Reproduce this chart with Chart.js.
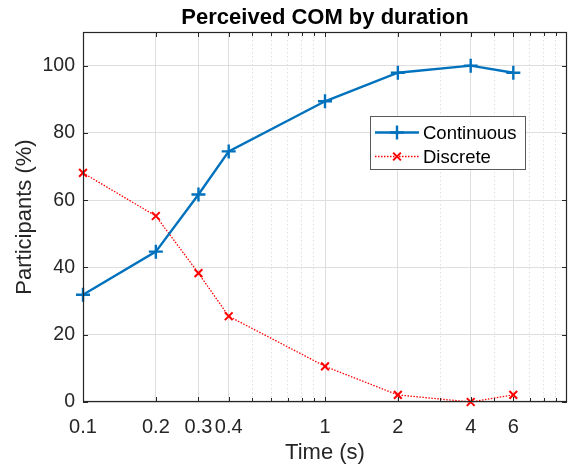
<!DOCTYPE html>
<html>
<head>
<meta charset="utf-8">
<title>Perceived COM by duration</title>
<script src="https://cdn.jsdelivr.net/npm/chart.js@4.4.1/dist/chart.umd.min.js"></script>
<style>
  html, body { margin: 0; padding: 0; background: #fff; }
</style>
</head>
<body>
<canvas id="comChart" width="571" height="468"></canvas>
<script>
// stimulus duration (s) and % of participants giving each answer
const durations = [0.1, 0.2, 0.3, 0.4, 1, 2, 4, 6];
const continuous = [31.9, 44.7, 61.7, 74.5, 89.4, 97.9, 100, 97.9];
const discrete = [68.1, 55.3, 38.3, 25.5, 10.6, 2.1, 0, 2.1];

const xTicks = [0.1, 0.2, 0.3, 0.4, 1, 2, 4, 6];
const xMinorTicks = [0.5, 0.6, 0.7, 0.8, 0.9, 3, 5, 7, 8, 9];
const yTicks = [0, 20, 40, 60, 80, 100];

const axisColor = '#262626';
const fontFamily = '"Liberation Sans", Arial, Helvetica, sans-serif';

function points(values) {
    return durations.map((t, i) => ({ x: t, y: values[i] }));
}

// legend box drawn inside the axes, like matlab's 'Location' legend
function drawLegend(chart) {
    const ctx = chart.ctx;
    const bx = 370, by = 116, bw = 156, bh = 54;
    ctx.save();
    ctx.fillStyle = '#fff';
    ctx.fillRect(bx, by, bw, bh);
    ctx.strokeStyle = '#5a5a5a';
    ctx.lineWidth = 1;
    ctx.strokeRect(bx + 0.5, by + 0.5, bw - 1, bh - 1);

    chart.data.datasets.forEach((ds, i) => {
        const yy = by + 16.5 + i * 24;
        const mx = bx + 27;
        ctx.strokeStyle = ds.borderColor;
        ctx.lineWidth = ds.borderWidth;
        ctx.setLineDash(ds.borderDash || []);
        ctx.beginPath();
        ctx.moveTo(bx + 5, yy);
        ctx.lineTo(bx + 49, yy);
        ctx.stroke();
        ctx.setLineDash([]);
        ctx.lineWidth = ds.pointBorderWidth;
        ctx.beginPath();
        const r = ds.pointRadius;
        if (ds.pointStyle === 'cross') {
            ctx.moveTo(mx - r, yy); ctx.lineTo(mx + r, yy);
            ctx.moveTo(mx, yy - r); ctx.lineTo(mx, yy + r);
        } else {
            const d = r * Math.SQRT1_2;
            ctx.moveTo(mx - d, yy - d); ctx.lineTo(mx + d, yy + d);
            ctx.moveTo(mx - d, yy + d); ctx.lineTo(mx + d, yy - d);
        }
        ctx.stroke();

        ctx.fillStyle = '#000';
        ctx.font = '18.5px ' + fontFamily;
        ctx.textBaseline = 'middle';
        ctx.textAlign = 'left';
        ctx.fillText(ds.label, bx + 53, yy + 1);
    });
    ctx.restore();
}

const matlabBox = {
    id: 'matlabBox',
    afterDraw(chart) {
        const { ctx, chartArea: a, scales: { x, y } } = chart;
        ctx.save();
        ctx.strokeStyle = axisColor;
        ctx.lineWidth = 1;
        ctx.beginPath();
        // tick marks point inwards, on all four sides
        const xMark = (v, len) => {
            const px = Math.round(x.getPixelForValue(v)) + 0.5;
            ctx.moveTo(px, a.bottom); ctx.lineTo(px, a.bottom - len);
            ctx.moveTo(px, a.top); ctx.lineTo(px, a.top + len);
        };
        xTicks.forEach(v => xMark(v, 5));
        xMinorTicks.forEach(v => xMark(v, 4));
        yTicks.forEach(v => {
            const py = Math.round(y.getPixelForValue(v)) + 0.5;
            ctx.moveTo(a.left, py); ctx.lineTo(a.left + 5, py);
            ctx.moveTo(a.right, py); ctx.lineTo(a.right - 5, py);
        });
        ctx.stroke();
        ctx.lineWidth = 1.2;
        ctx.strokeRect(Math.round(a.left) + 0.5, Math.round(a.top) + 0.5,
            Math.round(a.width) - 1, Math.round(a.height) - 1);
        ctx.restore();
        drawLegend(chart);
    }
};

const ctx = document.getElementById('comChart').getContext('2d');
const comChart = new Chart(ctx, {
    type: 'line',
    data: {
        datasets: [{
            label: 'Continuous',
            data: points(continuous),
            borderColor: '#0072BD',
            backgroundColor: '#0072BD',
            borderWidth: 2.4,
            pointStyle: 'cross',
            pointRadius: 7,
            pointHoverRadius: 7,
            pointBorderWidth: 2.4,
            tension: 0,
            clip: false
        }, {
            label: 'Discrete',
            data: points(discrete),
            borderColor: '#FF0000',
            backgroundColor: '#FF0000',
            borderWidth: 1.3,
            borderDash: [1.5, 1.5],
            pointStyle: 'crossRot',
            pointRadius: 5.5,
            pointHoverRadius: 5.5,
            pointBorderWidth: 2,
            tension: 0,
            clip: false
        }]
    },
    options: {
        responsive: false,
        animation: false,
        events: [],
        layout: {
            autoPadding: false,
            padding: { top: 0, right: 4, bottom: 0, left: 0 }
        },
        plugins: {
            legend: { display: false },
            tooltip: { enabled: false },
            title: {
                display: true,
                text: 'Perceived COM by duration',
                fullSize: false,
                color: '#000',
                font: { family: fontFamily, size: 22, weight: 'bold' },
                padding: { top: 5.2, bottom: 0.4 }
            }
        },
        scales: {
            x: {
                type: 'logarithmic',
                position: 'bottom',
                min: 0.1,
                max: 10,
                afterBuildTicks: s => { s.ticks = xTicks.map(v => ({ value: v })); },
                afterFit: s => { s.height = 66; },
                ticks: {
                    autoSkip: false,
                    maxRotation: 0,
                    padding: 13,
                    color: axisColor,
                    font: { family: fontFamily, size: 20 },
                    callback: v => String(v)
                },
                grid: { color: '#dedede', drawTicks: false },
                border: { display: false },
                title: {
                    display: true,
                    text: 'Time (s)',
                    color: axisColor,
                    font: { family: fontFamily, size: 22 },
                    padding: { top: 0, bottom: 2.3 }
                }
            },
            xMinor: {
                type: 'logarithmic',
                position: 'bottom',
                min: 0.1,
                max: 10,
                afterBuildTicks: s => { s.ticks = xMinorTicks.map(v => ({ value: v })); },
                afterFit: s => { s.height = 0; },
                ticks: { display: false },
                grid: { color: 'rgba(0,0,0,0.12)', drawTicks: false },
                border: { display: false, dash: [1.5, 2.5] }
            },
            y: {
                min: 0,
                max: 110,
                afterBuildTicks: s => { s.ticks = yTicks.map(v => ({ value: v })); },
                afterFit: s => { s.width = 83; },
                ticks: {
                    padding: 8,
                    color: axisColor,
                    font: { family: fontFamily, size: 19.5 }
                },
                grid: { color: '#dedede', drawTicks: false },
                border: { display: false },
                title: {
                    display: true,
                    text: 'Participants (%)',
                    color: axisColor,
                    font: { family: fontFamily, size: 22 },
                    padding: { top: 11.6, bottom: 0 }
                }
            }
        }
    },
    plugins: [matlabBox]
});
</script>
</body>
</html>
